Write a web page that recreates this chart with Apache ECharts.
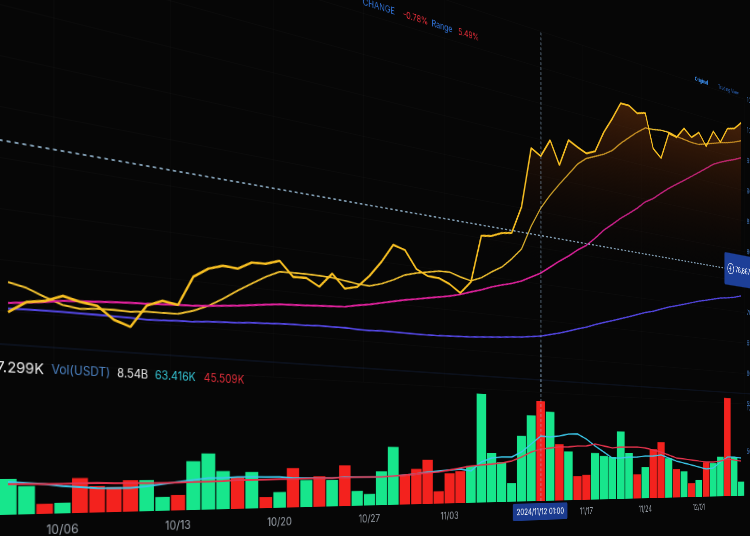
<!DOCTYPE html>
<html>
<head>
<meta charset="utf-8">
<script src="https://cdn.jsdelivr.net/npm/echarts@6/dist/echarts.min.js"></script>
<style>
html,body{margin:0;padding:0;width:750px;height:536px;overflow:hidden;background:#060606;}
/* the photographed screen is seen at an angle: a flat chart put into that perspective */
#stage{position:absolute;left:-2px;top:-360px;width:1290px;height:960px;
  transform-origin:2px 827px;
  transform:matrix3d(1,0,0,0.00054054, 0,1,0,0, 0,0,1,0, 0,0,0,1);}
#chart{width:1290px;height:960px;}
</style>
</head>
<body>
<div id="stage"><div id="chart"></div></div>
<script>
// ---- data (BTC/USDT, daily) ----
const dates = [
 '10/03','10/04','10/05','10/06','10/07','10/08','10/09','10/10','10/11','10/12',
 '10/13','10/14','10/15','10/16','10/17','10/18','10/19','10/20','10/21','10/22',
 '10/23','10/24','10/25','10/26','10/27','10/28','10/29','10/30','10/31','11/01',
 '11/02','11/03','11/04','11/05','11/06','11/07','11/08','11/09','11/10','11/11',
 '11/12','11/13','11/14','11/15','11/16','11/17','11/18','11/19','11/20','11/21',
 '11/22','11/23','11/24','11/25','11/26','11/27','11/28','11/29','11/30','12/01',
 '12/02','12/03','12/04','12/05','12/06','12/07'];

const closePrice = [
 59870,61020,61280,61970,61530,61290,59990,59390,61780,62470,
 62200,65440,66520,67050,66920,67810,67880,68420,66760,66820,
 65970,67720,66100,66500,68020,69950,72270,71840,69660,68960,
 68890,68300,67320,68950,75260,75460,76080,76340,80110,88470,
 87680,90210,87030,90870,90210,89620,90240,93330,95680,98280,
 98300,97510,97920,92870,91730,95850,95560,97280,96210,97320,
 95450,98170,96760,99280,99640,100910];

const ma7 = [
 62820,62420,61690,61060,60810,60980,61040,60970,61150,61180,
 61220,61720,62420,63360,64440,65420,66390,67160,67230,67290,
 67280,67240,67070,66860,66790,67240,67900,68710,69150,69470,
 69790,69860,69410,69090,69690,70660,71500,72810,74370,77750,
 80470,82540,84350,86060,87780,88900,89510,90140,90990,92370,
 93550,94680,95660,95750,95990,96010,95720,95570,95420,95440,
 95840,96260,96680,97010,97440,97960];

const ma25 = [
 60760,60970,61190,61470,61590,61710,61820,61920,62000,62100,
 62200,62270,62420,62590,62760,62980,63190,63390,63490,63590,
 63720,63820,63920,64260,64520,64880,65230,65570,65860,66160,
 66450,66760,67130,67640,68090,68650,69090,69490,70000,70740,
 71470,72500,73540,74460,75530,76430,77680,79080,80170,81310,
 82280,83310,84520,85300,86380,87410,88300,89200,90110,91030,
 91960,92910,93550,94110,94600,95190];

const ma99 = [
 60220,60280,60330,60350,60350,60360,60350,60340,60290,60370,
 60460,60510,60660,60750,60830,60990,61060,61140,61220,61250,
 61340,61360,61390,61330,61330,61420,61420,61430,61430,61440,
 61500,61580,61650,61720,61850,61970,62090,62240,62360,62550,
 62750,63090,63430,63840,64280,64680,65190,65630,66050,66500,
 66930,67400,67870,68210,68700,69160,69540,69930,70330,70740,
 71060,71390,71730,71940,72210,72600];

// volume in thousand BTC, and whether the day closed up (u) or down (d)
const volume = [
 24.5,19.5,7,7.5,24.8,19,18.2,23,23,10.3,
 11.6,37,43,29.5,24.8,28.7,8.8,12.6,31.8,22,
 25,21.8,34,12.4,9.7,29,50,25.7,31,39,
 11,27,29,33.5,100,45.6,37.3,17.6,62,82,
 96,86,55,48,23.7,24.7,46.7,43.7,42.8,69,
 47,25,32.6,51.6,59,42,30.5,28,15,18.4,
 38,37,44,110,44,16];
const volumeDir = [
 'u','u','d','u','d','d','d','d','u','u',
 'd','u','u','u','d','u','d','u','d','u',
 'd','u','d','u','u','u','u','d','d','d',
 'd','d','d','u','u','u','u','u','u','u',
 'd','u','d','u','d','d','u','u','u','u',
 'u','d','u','d','d','u','d','u','d','u',
 'd','u','u','d','u','u'];
const volMa5 = [
 22.4,21.6,20.8,19.2,18.4,17.5,17.4,17.3,18.4,19.9,
 21.4,22.8,24.2,24.1,24.8,24.8,24.7,24.6,23.7,23.7,
 23.6,23.5,24.3,24.2,24.1,24.1,24.9,25.7,26.5,28.2,
 29.1,29.9,30.8,29,37.3,41,42,42,46.9,54.6,
 62.4,61.7,62.9,65,65.3,60.5,53.7,47.8,41.8,41.8,
 42.9,43,44.1,44.2,45.4,42.2,39,36.9,34.8,32.7,
 30.5,31.6,38.2,43.8,43.9,42.9];
const volMa10 = [
 21,20.9,20.8,20.7,21.1,21.2,21,21,20.8,20.7,
 21,21.2,21.5,21.8,22.5,22.4,22.7,23,22.9,23.3,
 23.6,23.5,23.9,24.2,24.1,24.1,24.9,25.7,26.5,27.3,
 28.2,29.9,31.8,33.5,34.5,35.4,36.4,38.3,42.1,47,
 49.9,51,52.2,52.3,53.4,53.5,55.7,53.9,52,53.1,
 53.3,53.4,52.5,50.5,48.5,45.4,42.3,41.3,40.3,39.2,
 38.2,38.2,39.3,41.6,40.5,39.5];

const crossIndex = 40;                 // 2024/11/12
const crossLabel = '2024/11/12 01:00';
const crossPrice = 76667.89;
const lastPrice = closePrice[closePrice.length - 1];

const legendItems = [
  {text: '97.299K',   color: '#e6e6e6', x: 47,  align: 'right', size: 15},
  {text: 'Vol(USDT)', color: '#4c82c2', x: 55,  align: 'left',  size: 13},
  {text: '8.54B',     color: '#e6e6e6', x: 127, align: 'left',  size: 13},
  {text: '63.416K',   color: '#35c3d3', x: 171, align: 'left',  size: 13},
  {text: '45.509K',   color: '#e52e3a', x: 231, align: 'left',  size: 13}
];
const headerItems = [
  {text: 'CHANGE', color: '#2f6fd0', x: 453},
  {text: '-0.78%', color: '#f0303c', x: 517},
  {text: 'Range',  color: '#2f6fd0', x: 565},
  {text: '5.49%',  color: '#f0303c', x: 611}
];

// ---- chart ----
const UP = '#17e68c', DOWN = '#f3221e';
const FONT = 'Inter, Roboto, "Noto Sans", sans-serif';
const weekly = (i) => i % 7 === 3;
const fmtPrice = (v) => v.toLocaleString('en-US', {minimumFractionDigits: 2, maximumFractionDigits: 2});

const chart = echarts.init(document.getElementById('chart'), null, {renderer: 'canvas'});

const pointerLine = {color: '#a3c9ea', width: 1.4, type: [4, 3]};

const graphic = [
  {type: 'line', shape: {x1: 0, y1: 704, x2: 1290, y2: 704}, style: {stroke: '#101a30', lineWidth: 1}, silent: true}
];
legendItems.forEach(it => graphic.push({
  type: 'text', x: it.x, y: 727, silent: true,
  style: {text: it.text, fill: it.color, font: it.size + 'px ' + FONT, align: it.align, verticalAlign: 'middle'}
}));
headerItems.forEach(it => graphic.push({
  type: 'text', x: it.x, y: 248, silent: true,
  style: {text: it.text, fill: it.color, font: '12px ' + FONT, align: 'left', verticalAlign: 'middle'}
}));
graphic.push({type: 'text', x: 1115, y: 205, silent: true,
  style: {text: 'Original', fill: '#3b8ff0', font: '600 9px ' + FONT, verticalAlign: 'middle'}});
graphic.push({type: 'text', x: 1176, y: 205, silent: true,
  style: {text: 'Trading View', fill: '#2a5fb0', font: '9px ' + FONT, verticalAlign: 'middle'}});

chart.setOption({
  backgroundColor: '#060606',
  animation: false,
  textStyle: {fontFamily: FONT},
  grid: [
    {left: 0.6, top: 211, width: 1247.4, height: 510, outerBoundsMode: 'none'},
    {left: 0.6, top: 654.5, width: 1247.4, height: 220.5, outerBoundsMode: 'none'}
  ],
  xAxis: [
    {type: 'category', gridIndex: 0, data: dates,
     axisLine: {show: false}, axisTick: {show: false}, axisLabel: {show: false},
     splitLine: {show: true, interval: weekly, lineStyle: {color: 'rgba(255,255,255,0.022)'}},
     axisPointer: {show: true, status: 'show', value: crossIndex, type: 'line', triggerTooltip: false,
                   snap: false, lineStyle: pointerLine, label: {show: false}}},
    {type: 'category', gridIndex: 1, data: dates,
     axisLine: {show: false}, axisTick: {show: false},
     axisLabel: {interval: weekly, color: '#9aa1aa', fontSize: 13, margin: 11},
     splitLine: {show: false},
     axisPointer: {show: true, status: 'show', value: crossIndex, type: 'line', triggerTooltip: false,
                   snap: false, lineStyle: pointerLine,
                   label: {show: true, formatter: () => crossLabel, backgroundColor: '#1b3b8f',
                           color: '#ffffff', fontSize: 12, padding: [6, 7], borderRadius: 2, margin: 3}}}
  ],
  yAxis: [
    {type: 'value', gridIndex: 0, position: 'right', min: 55000, max: 105000, interval: 5000,
     axisLine: {show: false}, axisTick: {show: false},
     axisLabel: {color: '#3f74b8', fontSize: 12, margin: 6, formatter: (v) => fmtPrice(v)},
     splitLine: {show: true, lineStyle: {color: 'rgba(255,255,255,0.022)'}},
     axisPointer: {show: true, status: 'show', value: crossPrice, type: 'line', triggerTooltip: false,
                   snap: false, lineStyle: {color: '#a6cbe8', width: 1.5, type: [4, 4]},
                   label: {show: true, formatter: () => '⊕ ' + fmtPrice(crossPrice),
                           backgroundColor: '#1d3f98', color: '#ffffff', fontSize: 13,
                           padding: [20, 8], borderRadius: 3, margin: -8}}},
    {type: 'value', gridIndex: 1, position: 'right', min: 0, max: 150, interval: 50,
     axisLine: {show: false}, axisTick: {show: false}, splitLine: {show: false},
     axisLabel: {color: '#3f74b8', fontSize: 12, margin: 6, showMaxLabel: false,
                 formatter: (v) => v ? v + 'K' : ''}}
  ],
  graphic: graphic,
  series: [
    {name: 'Close', type: 'line', xAxisIndex: 0, yAxisIndex: 0, data: closePrice,
     symbol: 'none', z: 4,
     lineStyle: {color: '#f7bf22', width: 2.7},
     areaStyle: {origin: 'start', color: new echarts.graphic.LinearGradient(0, 0, 0.01, 0.68, [
       {offset: 0, color: 'rgba(180,84,16,0.68)'},
       {offset: 0.4, color: 'rgba(112,46,9,0.44)'},
       {offset: 0.75, color: 'rgba(52,20,5,0.2)'},
       {offset: 1, color: 'rgba(6,6,6,0)'}])},
     markLine: {silent: true, symbol: 'none',
       lineStyle: {opacity: 0},
       data: [{yAxis: lastPrice}],
       label: {show: true, position: 'end', distance: -12, formatter: () => fmtPrice(lastPrice),
               backgroundColor: '#12c987', color: '#06140d', fontSize: 12, padding: [5, 6], borderRadius: 2}}},
    {name: 'MA(7)', type: 'line', xAxisIndex: 0, yAxisIndex: 0, data: ma7, symbol: 'none', z: 3,
     lineStyle: {color: '#f1c130', width: 2}},
    {name: 'MA(25)', type: 'line', xAxisIndex: 0, yAxisIndex: 0, data: ma25, symbol: 'none', z: 3,
     lineStyle: {color: '#e2229e', width: 2.2}},
    {name: 'MA(99)', type: 'line', xAxisIndex: 0, yAxisIndex: 0, data: ma99, symbol: 'none', z: 3,
     lineStyle: {color: '#5548e8', width: 2}},
    {name: 'Vol', type: 'bar', xAxisIndex: 1, yAxisIndex: 1, barCategoryGap: '8%',
     data: volume.map((v, i) => ({value: v, itemStyle: {color: volumeDir[i] === 'u' ? UP : DOWN}}))},
    {name: 'MA(5)', type: 'line', xAxisIndex: 1, yAxisIndex: 1, data: volMa5, symbol: 'none', z: 4,
     lineStyle: {color: '#3cc8ea', width: 2}},
    {name: 'MA(10)', type: 'line', xAxisIndex: 1, yAxisIndex: 1, data: volMa10, symbol: 'none', z: 4,
     lineStyle: {color: '#e5334d', width: 2}}
  ]
});
</script>
</body>
</html>
